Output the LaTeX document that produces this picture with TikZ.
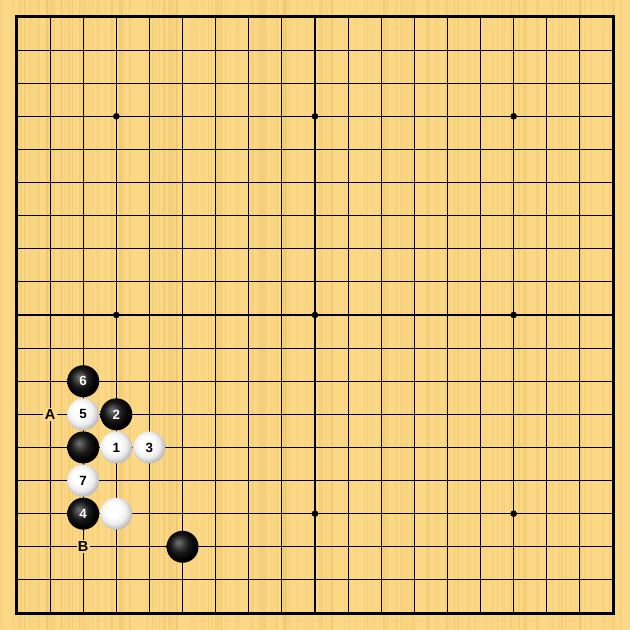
\documentclass[tikz,border=0pt]{standalone}
\usepackage{fontspec}
\setsansfont{Liberation Sans}
\usepackage{xcolor}
\usepackage{tikz}
\usetikzlibrary{
  positioning,
  calc
}
\definecolor{board}{RGB}{250,216,134}
\definecolor{grain}{RGB}{238,194,106}
\pgfdeclareradialshading{wshade}{\pgfpoint{-7bp}{7bp}}{%
  color(0bp)=(white); color(11bp)=(white); color(20bp)=(black!7);
  color(28bp)=(black!28); color(50bp)=(black!35)}
\pgfdeclareradialshading{bshade}{\pgfpoint{-7bp}{7bp}}{%
  color(0bp)=(black!55); color(6bp)=(black!70); color(14bp)=(black!90);
  color(24bp)=(black); color(50bp)=(black)}
\tikzset{
  bstone/.style={circle,minimum size=0.966cm,inner sep=0pt,shading=bshade,
    text=white,font=\sffamily\bfseries\fontsize{11.5}{11.5}\selectfont},
  wstone/.style={circle,minimum size=0.966cm,inner sep=0pt,shading=wshade,
    text=black,font=\sffamily\bfseries\fontsize{11.5}{11.5}\selectfont},
  boardlabel/.style={fill=board,inner sep=1.2pt,text=black,font=\sffamily\bfseries\fontsize{12.5}{12.5}\selectfont}
}
\begin{document}
\begin{tikzpicture}[x=1cm,y=1cm]
  % 盤面
  \useasboundingbox (-0.513,-0.513) rectangle (18.513,18.513);
  \fill[board] (-0.513,-0.513) rectangle (18.513,18.513);
  % 木目
  \pgfmathsetseed{7}
  \foreach \i in {0,...,220}{
    \pgfmathsetmacro{\gx}{-0.5+19*rnd}
    \pgfmathsetmacro{\go}{0.15+0.35*rnd}
    \fill[grain,opacity=\go] (\gx,-0.513) rectangle ++(0.035,19.026);
  }
  % 線
  \foreach \k in {1,...,17}{
    \draw[line width=0.9pt] (\k,0)--(\k,18);
    \draw[line width=0.9pt] (0,\k)--(18,\k);
  }
  \draw[line width=2.6pt] (0,0) rectangle (18,18);
  % 星
  \foreach \sx in {3,9,15}{
    \foreach \sy in {3,9,15}{
      \fill (\sx,\sy) circle (0.1);
    }
  }
  % 石 (列, 18-行)
  \node[bstone] (b6) at (2,7) {6};
  \node[wstone] (w5) at (2,6) {5};
  \node[bstone] (b2) at (3,6) {2};
  \node[bstone] (b0) at (2,5) {};
  \node[wstone] (w1) at (3,5) {1};
  \node[wstone] (w3) at (4,5) {3};
  \node[wstone] (w7) at (2,4) {7};
  \node[bstone] (b4) at (2,3) {4};
  \node[wstone] (w0) at (3,3) {};
  \node[bstone] (b1) at (5,2) {};
  % 記号
  \node[boardlabel] (lA) at (1,6) {A};
  \node[boardlabel] (lB) at (2,2) {B};
\end{tikzpicture}
\end{document}
